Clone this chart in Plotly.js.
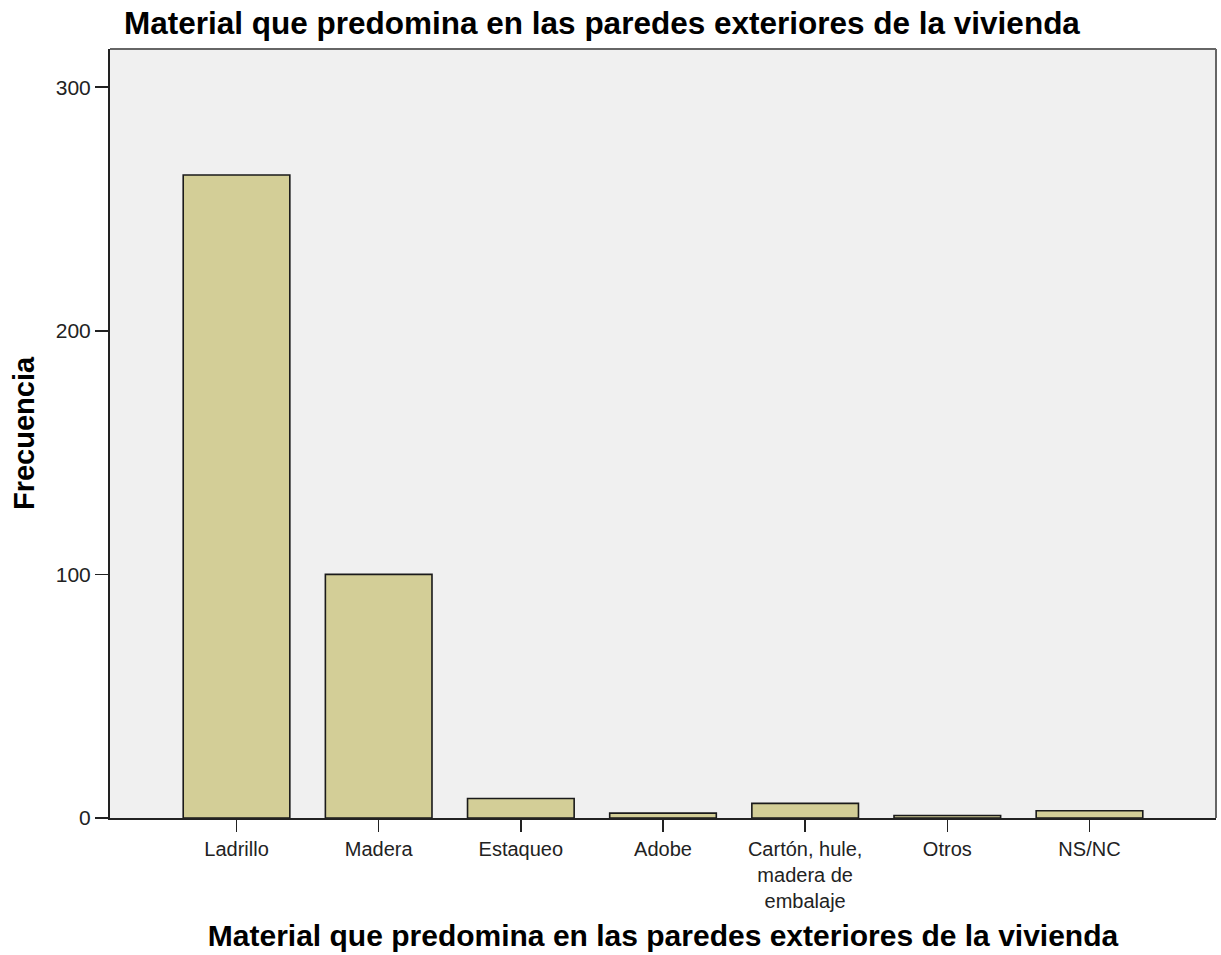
<!DOCTYPE html>
<html>
<head>
<meta charset="utf-8">
<script src="https://cdn.plot.ly/plotly-3.0.1.min.js"></script>
<style>html,body{margin:0;padding:0;background:#fff;}#chart{width:1221px;height:955px;}</style>
</head>
<body>
<div id="chart"></div>
<script>
const categories = ["Ladrillo", "Madera", "Estaqueo", "Adobe", "Cartón, hule,<br>madera de<br>embalaje", "Otros", "NS/NC"];
const frecuencia = [264, 100, 8, 2, 6, 1, 3];
const yTicks = [0, 100, 200, 300];
const chartTitle = "Material que predomina en las paredes exteriores de la vivienda";
const xTitle = "Material que predomina en las paredes exteriores de la vivienda";
const yTitle = "Frecuencia";

const FONT = "Liberation Sans, Arial, sans-serif";

const trace = {
  type: "bar",
  x: categories.map((c, i) => i),
  y: frecuencia,
  width: 0.75,
  marker: { color: "#d3ce97", line: { color: "#1a1a1a", width: 1.6 } },
  hoverinfo: "skip"
};

const layout = {
  width: 1221, height: 955,
  margin: { l: 110, r: 5, t: 49, b: 137 },
  paper_bgcolor: "#ffffff",
  plot_bgcolor: "#f0f0f0",
  showlegend: false,
  title: {
    text: chartTitle,
    font: { family: FONT, size: 31.5, color: "#000", weight: "bold" },
    x: 124 / 1221, xanchor: "left", xref: "container",
    y: 1 - 23 / 955, yanchor: "middle", yref: "container"
  },
  xaxis: {
    range: [-0.89, 6.89],
    tickmode: "array",
    tickvals: categories.map((c, i) => i),
    ticktext: categories,
    ticks: "outside", ticklen: 12, tickwidth: 1.6, tickcolor: "#222",
    tickfont: { family: FONT, size: 20, color: "#222" },
    showgrid: false, zeroline: false,
    showline: true, linecolor: "#222", linewidth: 2,
    title: { text: xTitle, font: { family: FONT, size: 30, color: "#000", weight: "bold" }, standoff: 14 },
    automargin: false
  },
  yaxis: {
    range: [0, 315.7],
    tickmode: "array",
    tickvals: yTicks,
    ticktext: yTicks.map(String),
    ticks: "outside", ticklen: 13, tickwidth: 1.6, tickcolor: "#222",
    tickfont: { family: FONT, size: 21, color: "#222" },
    showgrid: false, zeroline: false,
    showline: true, linecolor: "#222", linewidth: 2,
    title: { text: yTitle, font: { family: FONT, size: 29, color: "#000", weight: "bold" }, standoff: 13 },
    automargin: false
  },
  shapes: [
    { type: "line", xref: "paper", yref: "paper", x0: 0, x1: 1, y0: 1, y1: 1, line: { color: "#666", width: 2 } },
    { type: "line", xref: "paper", yref: "paper", x0: 1, x1: 1, y0: 0, y1: 1, line: { color: "#666", width: 2 } }
  ]
};

Plotly.newPlot("chart", [trace], layout, { staticPlot: true, displayModeBar: false });
</script>
</body>
</html>
